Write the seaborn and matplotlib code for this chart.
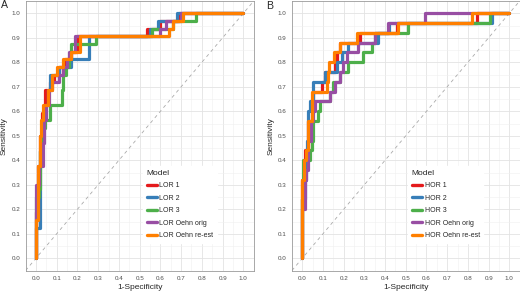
import numpy as np
import pandas as pd
import matplotlib.pyplot as plt
import seaborn as sns

# ROC curves, panel A (LOR models): FPR where the TPR jumps, and the TPR after the jump
lor1_fpr = [0, 0, 0.01, 0.02, 0.03, 0.045, 0.07, 0.085, 0.11, 0.14, 0.17, 0.2, 0.535, 0.6, 0.69, 1]
lor1_tpr = [0, 0.1875, 0.375, 0.5, 0.59375, 0.6875, 0.71875, 0.75, 0.78125, 0.8125, 0.84375, 0.90625, 0.9375, 0.96875, 1.0, 1.0]
lor2_fpr = [0, 0, 0.02, 0.03, 0.035, 0.045, 0.06, 0.07, 0.11, 0.17, 0.255, 0.55, 0.59, 0.68, 1]
lor2_tpr = [0, 0.125, 0.4375, 0.5, 0.5625, 0.625, 0.6875, 0.75, 0.78125, 0.8125, 0.90625, 0.9375, 0.96875, 1.0, 1.0]
lor3_fpr = [0, 0, 0.015, 0.02, 0.03, 0.045, 0.07, 0.125, 0.13, 0.145, 0.16, 0.17, 0.29, 0.56, 0.66, 0.77, 1]
lor3_tpr = [0, 0.25, 0.28125, 0.4375, 0.53125, 0.5625, 0.625, 0.6875, 0.75, 0.78125, 0.8125, 0.875, 0.90625, 0.9375, 0.96875, 1.0, 1.0]
lor_orig_fpr = [0, 0, 0.015, 0.035, 0.04, 0.05, 0.065, 0.075, 0.11, 0.13, 0.15, 0.16, 0.19, 0.6, 0.625, 0.7, 1]
lor_orig_tpr = [0, 0.3, 0.375, 0.46875, 0.5625, 0.625, 0.6875, 0.71875, 0.75, 0.78125, 0.8125, 0.84375, 0.90625, 0.9375, 0.96875, 1.0, 1.0]
lor_re_fpr = [0, 0, 0.01, 0.02, 0.025, 0.035, 0.06, 0.075, 0.1, 0.13, 0.17, 0.21, 0.64, 0.66, 0.71, 1]
lor_re_tpr = [0, 0.15625, 0.375, 0.5, 0.5625, 0.625, 0.6875, 0.75, 0.78125, 0.8125, 0.84375, 0.90625, 0.9375, 0.96875, 1.0, 1.0]

# panel B (HOR models)
hor1_fpr = [0, 0, 0.01, 0.013, 0.03, 0.047, 0.05, 0.094, 0.11, 0.158, 0.17, 0.18, 0.28, 0.456, 0.842, 1]
hor1_tpr = [0, 0.32, 0.4, 0.44, 0.56, 0.6, 0.68, 0.72, 0.76, 0.8, 0.84, 0.88, 0.92, 0.96, 1.0, 1.0]
hor2_fpr = [0, 0, 0.013, 0.02, 0.025, 0.03, 0.035, 0.053, 0.11, 0.166, 0.19, 0.22, 0.367, 0.42, 0.915, 1]
hor2_tpr = [0, 0.24, 0.32, 0.4, 0.48, 0.6, 0.64, 0.72, 0.76, 0.8, 0.84, 0.88, 0.92, 0.96, 1.0, 1.0]
hor3_fpr = [0, 0, 0.005, 0.037, 0.045, 0.053, 0.075, 0.085, 0.134, 0.15, 0.18, 0.222, 0.295, 0.335, 0.35, 0.512, 0.907, 1]
hor3_tpr = [0, 0.24, 0.4, 0.44, 0.48, 0.56, 0.6, 0.64, 0.68, 0.72, 0.76, 0.8, 0.84, 0.88, 0.92, 0.96, 1.0, 1.0]
hor_orig_fpr = [0, 0, 0.013, 0.02, 0.03, 0.04, 0.05, 0.06, 0.133, 0.158, 0.18, 0.197, 0.217, 0.27, 0.35, 0.416, 0.593, 1]
hor_orig_tpr = [0, 0.2, 0.32, 0.36, 0.48, 0.56, 0.6, 0.64, 0.68, 0.72, 0.76, 0.8, 0.84, 0.88, 0.92, 0.96, 1.0, 1.0]
hor_re_fpr = [0, 0, 0.01, 0.02, 0.03, 0.045, 0.12, 0.125, 0.13, 0.155, 0.182, 0.263, 0.464, 0.82, 1]
hor_re_tpr = [0, 0.32, 0.4, 0.44, 0.56, 0.68, 0.72, 0.76, 0.8, 0.84, 0.88, 0.92, 0.96, 1.0, 1.0]

lor_names = ['LOR 1', 'LOR 2', 'LOR 3', 'LOR Oehn orig', 'LOR Oehn re-est']
hor_names = ['HOR 1', 'HOR 2', 'HOR 3', 'HOR Oehn orig', 'HOR Oehn re-est']
colors = ['#E41A1C', '#377EB8', '#4DAF4A', '#984EA3', '#FF7F00']


def make_df(names, fprs, tprs):
    rows = []
    for name, f, t in zip(names, fprs, tprs):
        for x, y in zip(f, t):
            rows.append((name, x, y))
    return pd.DataFrame(rows, columns=['Model', 'fpr', 'tpr'])


df_a = make_df(lor_names, [lor1_fpr, lor2_fpr, lor3_fpr, lor_orig_fpr, lor_re_fpr],
               [lor1_tpr, lor2_tpr, lor3_tpr, lor_orig_tpr, lor_re_tpr])
df_b = make_df(hor_names, [hor1_fpr, hor2_fpr, hor3_fpr, hor_orig_fpr, hor_re_fpr],
               [hor1_tpr, hor2_tpr, hor3_tpr, hor_orig_tpr, hor_re_tpr])

sns.set_style('white')
plt.rcParams['font.family'] = ['Liberation Sans', 'DejaVu Sans']

fig = plt.figure(figsize=(5.2, 2.92), dpi=100)
ax_a = fig.add_axes([0.0492, 0.0736, 0.4387, 0.9228])
ax_b = fig.add_axes([0.5614, 0.0736, 0.4379, 0.9228])

ticks = np.arange(0, 1.01, 0.1)
minor = np.arange(0.05, 1.0, 0.1)

for ax, df, names, anchor in [(ax_a, df_a, lor_names, (0.50, 0.40)),
                              (ax_b, df_b, hor_names, (0.496, 0.40))]:
    ax.set_xlim(-0.05, 1.05)
    ax.set_ylim(-0.05, 1.05)
    ax.set_xticks(ticks)
    ax.set_yticks(ticks)
    ax.set_xticks(minor, minor=True)
    ax.set_yticks(minor, minor=True)
    ax.set_xticklabels([f'{t:.1f}' for t in ticks])
    ax.set_yticklabels([f'{t:.1f}' for t in ticks])
    ax.grid(which='major', color='#E3E3E3', lw=0.6)
    ax.grid(which='minor', color='#EFEFEF', lw=0.4)
    ax.set_axisbelow(True)
    ax.tick_params(which='major', length=2, width=0.5, color='#555555',
                   labelsize=4.5, labelcolor='#4D4D4D', pad=1.8)
    ax.tick_params(which='minor', length=0)
    for s in ax.spines.values():
        s.set_color('#9A9A9A')
        s.set_linewidth(0.6)

    ax.axline((0, 0), (1, 1), color='#AAAAAA', lw=0.6, ls=(0, (4, 4)), zorder=1)

    sns.lineplot(data=df, x='fpr', y='tpr', hue='Model', hue_order=names,
                 palette=colors, sort=False, estimator=None, drawstyle='steps-post',
                 lw=2.3, ax=ax, zorder=3)

    ax.set_xlabel('1-Specificity', fontsize=6.0, labelpad=2)
    ax.set_ylabel('Sensitivity', fontsize=6.0, labelpad=2.5)

    handles, labels = ax.get_legend_handles_labels()
    leg = ax.legend(handles, labels, title='Model', loc='upper left',
                    bbox_to_anchor=anchor, fontsize=5.0, title_fontsize=6.0,
                    frameon=True, framealpha=1, edgecolor='white',
                    handlelength=1.5, handletextpad=0.35, labelspacing=0.8,
                    borderpad=0.5, alignment='left')
    for h in leg.legend_handles:
        h.set_linewidth(2.4)

fig.text(4.5 / 520, 1 - 5.5 / 292, 'A', fontsize=7.6, va='center', ha='center')
fig.text(270 / 520, 1 - 6 / 292, 'B', fontsize=7.6, va='center', ha='center')

fig.savefig('out.png', dpi=100)
